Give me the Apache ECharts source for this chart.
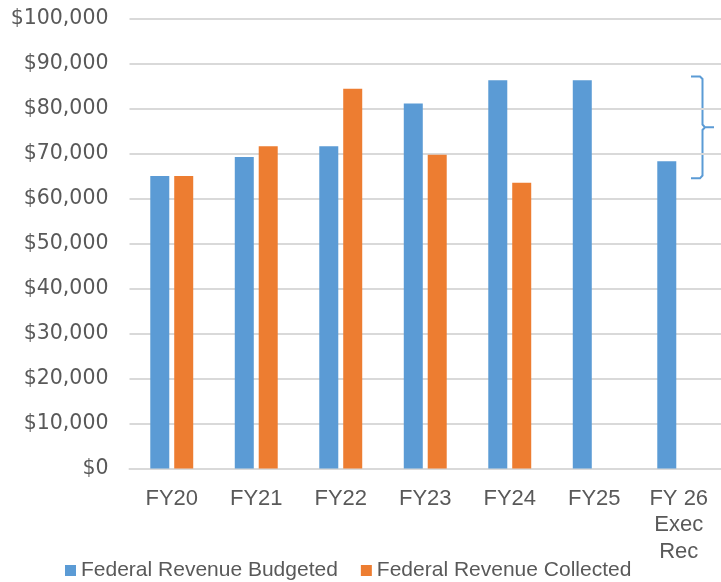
<!DOCTYPE html>
<html>
<head>
<meta charset="utf-8">
<script src="https://cdn.jsdelivr.net/npm/echarts@6/dist/echarts.min.js"></script>
<style>
  html, body { margin: 0; padding: 0; background: #fff; }
  #main { width: 721px; height: 582px; }
</style>
</head>
<body>
<div id="main"></div>
<script>
// categories and values
var categories = ['FY20', 'FY21', 'FY22', 'FY23', 'FY24', 'FY25', 'FY 26\nExec\nRec'];
var budgeted = [65000, 69200, 71600, 81100, 86300, 86300, 68300];
var collected = [65000, 71600, 84400, 69700, 63500, null, null];
var seriesNames = ['Federal Revenue Budgeted', 'Federal Revenue Collected'];

var font = '"Liberation Sans", Arial, sans-serif';
var wideFont = '"DejaVu Sans", sans-serif';
var textGray = '#595959';
var gridGray = '#d9d9d9';

var chart = echarts.init(document.getElementById('main'), null, { renderer: 'canvas' });

var option = {
  animation: false,
  color: ['#5B9BD5', '#ED7D31'],
  grid: {
    left: 129.5,
    right: 0,
    top: 18.5,
    bottom: 113.5
  },
  legend: {
    data: seriesNames,
    left: 65,
    top: 560,
    padding: 0,
    icon: 'rect',
    itemWidth: 11,
    itemHeight: 11,
    itemGap: 23,
    textStyle: { fontFamily: font, fontSize: 21, color: textGray, padding: [0, 0, 0, 0] }
  },
  xAxis: {
    type: 'category',
    data: categories,
    axisTick: { show: false },
    axisLine: { lineStyle: { color: gridGray, width: 2 } },
    axisLabel: {
      fontFamily: font,
      fontSize: 22,
      lineHeight: 26.5,
      color: textGray,
      margin: 17,
      interval: 0
    }
  },
  yAxis: {
    type: 'value',
    min: 0,
    max: 100000,
    interval: 10000,
    axisLine: { show: false },
    axisTick: { show: false },
    splitLine: { lineStyle: { color: gridGray, width: 2 } },
    axisLabel: {
      fontFamily: wideFont,
      fontSize: 20.5,
      color: textGray,
      margin: 21,
      formatter: function (v) {
        return '$' + v.toLocaleString('en-US');
      }
    }
  },
  series: [
    {
      name: seriesNames[0],
      type: 'bar',
      barWidth: 19,
      barGap: '26%',
      data: budgeted
    },
    {
      name: seriesNames[1],
      type: 'bar',
      barWidth: 19,
      data: collected
    }
  ],
  graphic: [
    {
      // bracket annotation on the right
      type: 'polyline',
      shape: {
        points: [
          [691, 76.5], [700, 76.5], [702.5, 79], [702.5, 124.5], [705, 127.3], [714, 127.3],
          [705, 127.3], [702.5, 130], [702.5, 175.5], [700, 178.3], [691, 178.3]
        ]
      },
      style: { stroke: '#5B9BD5', lineWidth: 2, fill: null }
    }
  ]
};

chart.setOption(option);
</script>
</body>
</html>
